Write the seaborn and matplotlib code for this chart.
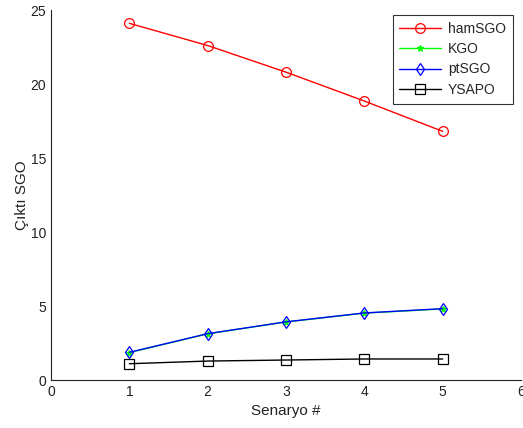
import matplotlib
matplotlib.use("Agg")
import matplotlib.pyplot as plt
import seaborn as sns
import pandas as pd

scenarios = [1, 2, 3, 4, 5]
hamSGO = [24.1, 22.6, 20.8, 18.85, 16.8]
KGO = [1.85, 3.12, 3.92, 4.52, 4.8]
ptSGO = [1.87, 3.13, 3.93, 4.53, 4.82]
YSAPO = [1.1, 1.28, 1.35, 1.42, 1.42]

sns.set_style("white")
plt.rcParams['font.family'] = ['Liberation Sans', 'DejaVu Sans']

fig = plt.figure(figsize=(5.23, 4.28), dpi=100)
ax = fig.add_axes([51/523, 48/428, 470/523, 370/428])

series = [
    ("hamSGO", hamSGO, "#ff0000", "o", dict(markerfacecolor="none", markersize=7)),
    ("KGO", KGO, "#00ff00", "*", dict(markersize=5)),
    ("ptSGO", ptSGO, "#0000ff", "d", dict(markerfacecolor="none", markersize=6)),
    ("YSAPO", YSAPO, "#000000", "s", dict(markerfacecolor="none", markersize=7)),
]
for name, vals, col, mk, kw in series:
    df = pd.DataFrame({"x": scenarios, "y": vals})
    sns.lineplot(data=df, x="x", y="y", ax=ax, color=col, marker=mk, linewidth=1,
                 markeredgecolor=col, markeredgewidth=0.9, label=name, **kw)

ax.set_xlim(0, 6)
ax.set_ylim(0, 25)
ax.set_xticks(range(0, 7))
ax.set_yticks(range(0, 26, 5))
ax.tick_params(direction="in", length=4, labelsize=10, colors="#222222", width=0.6)
for s in ["top", "right"]:
    ax.spines[s].set_visible(False)
for s in ["left", "bottom"]:
    ax.spines[s].set_color("#222222")
    ax.spines[s].set_linewidth(0.8)
ax.set_xlabel("Senaryo #", fontsize=11, labelpad=4, color="#222222")
ax.set_ylabel("Çıktı SGO", fontsize=11, labelpad=1, color="#222222")
leg = ax.legend(loc="upper right", bbox_to_anchor=(1.0-8/470, 1.0-5/370), frameon=True,
                borderaxespad=0, fancybox=False, edgecolor="#000000", fontsize=10,
                handlelength=3.0, borderpad=0.5, labelspacing=0.45, handletextpad=0.5)
leg.get_frame().set_linewidth(0.8)
fig.savefig("out.png", dpi=100)
